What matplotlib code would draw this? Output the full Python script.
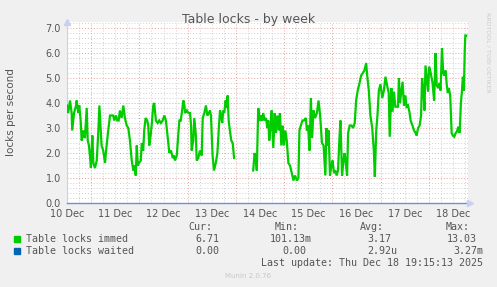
import numpy as np
import matplotlib
matplotlib.use("Agg")
import matplotlib.pyplot as plt
from matplotlib.patches import Rectangle

# hours since 10 Dec 00:00, lock rate (per second); nan marks the data gap
hours = [
    12.0, 12.6, 13.5, 14.3, 14.6, 15.5, 16.5, 16.8, 17.6, 18.1, 18.8, 19.3, 20.1, 20.9,
    21.8, 22.3, 22.9, 23.4, 23.9, 24.6, 25.1, 25.9, 26.8, 27.6, 28.1, 28.8, 29.2, 30.0,
    30.9, 31.7, 32.5, 33.4, 34.2, 35.0, 35.5, 36.4, 37.0, 37.7, 38.3, 39.2, 40.0, 40.8,
    41.7, 42.5, 43.3, 44.2, 45.0, 45.5, 46.2, 46.7, 47.2, 47.8, 48.7, 49.2, 49.9, 50.4,
    51.1, 51.9, 52.4, 52.9, 53.6, 54.1, 54.9, 55.4, 56.2, 57.1, 57.9, 58.7, 59.6, 60.4,
    61.2, 62.1, 62.9, 63.7, 64.6, 65.2, 65.7, 66.6, 67.4, 67.9, 68.6, 69.1, 69.9, 70.4,
    70.7, 71.6, 72.4, 73.2, 73.7, 74.0, 74.8, 75.3, 76.1, 76.5, 77.3, 78.1, 79.0, 79.5,
    80.3, 81.1, 81.8, 82.6, 83.1, 83.6, 84.4, 85.1, 86.0, 86.8, 87.6, 88.1, 88.7, 89.2,
    89.7, 90.2, 90.9, 91.4, 91.9, 92.4, 93.0, 93.7, 94.4, 95.1, 100.0,
    104.6, 105.3, 106.0, 106.4, 107.1, 108.0, 108.6, 109.1, 109.6, 110.3, 111.0, 111.6,
    112.1, 112.6, 113.3, 113.8, 114.6, 115.3, 115.9, 116.6, 117.3, 117.9, 118.6, 119.3,
    119.9, 120.6, 121.3, 122.1, 122.9, 123.8, 124.6, 125.4, 126.3, 127.1, 127.6, 128.3,
    129.1, 129.9, 130.8, 131.3, 131.9, 132.6, 133.3, 133.9, 134.6, 135.4, 136.3, 137.1,
    137.9, 138.8, 139.6, 140.5, 141.0, 141.6, 142.1, 142.8, 143.5, 144.1, 144.8, 145.5,
    146.1, 146.8, 147.5, 148.0, 148.8, 149.5, 150.1, 150.8, 151.3, 151.8, 152.6, 153.5,
    154.3, 155.1, 155.8, 156.6, 157.5, 158.3, 159.1, 159.9, 160.8, 161.3, 162.1, 162.9,
    163.8, 164.6, 165.1, 165.8, 166.4, 167.1, 167.9, 168.8, 169.6, 170.4, 171.2, 172.0,
    172.5, 173.3, 173.9, 174.6, 175.3, 175.9, 176.6, 177.1, 177.6, 178.3, 178.9, 179.6,
    180.3, 180.9, 181.6, 182.3, 182.9, 183.8, 184.6, 185.4, 185.9, 186.6, 187.4, 188.1,
    188.6, 189.3, 189.8, 190.3, 190.9, 191.6, 192.1, 192.9, 193.8, 194.6, 195.3, 195.9,
    196.6, 197.3, 197.8, 198.5, 199.1, 199.6, 200.3, 200.9, 201.4, 201.9, 202.6, 203.3,
    203.9, 204.6, 205.3, 205.9, 206.6, 207.3, 207.9, 208.4, 208.9, 209.4, 209.8, 210.1,
    210.6,
]
immed = [
    3.9, 3.6, 4.1, 3.6, 2.9, 3.6, 3.9, 4.1, 3.6, 3.9, 3.3, 2.5, 2.9, 2.6,
    3.8, 2.5, 2.3, 1.9, 1.4, 2.7, 1.6, 1.4, 1.7, 2.9, 3.9, 2.9, 2.3, 2.1,
    1.6, 2.3, 2.9, 3.5, 3.5, 3.5, 3.3, 3.5, 3.3, 3.3, 3.7, 3.4, 3.9, 3.4,
    3.1, 3.0, 2.5, 1.7, 1.3, 1.5, 1.1, 2.3, 1.5, 1.6, 1.7, 2.4, 2.1, 2.9,
    3.4, 3.3, 3.1, 2.3, 2.7, 3.1, 3.9, 4.0, 3.3, 3.2, 3.3, 3.2, 3.3, 3.5,
    3.3, 2.6, 2.0, 2.1, 1.8, 1.9, 1.7, 1.9, 2.8, 3.3, 3.3, 3.6, 4.1, 3.9,
    3.6, 3.7, 3.6, 3.6, 3.1, 2.1, 2.5, 3.4, 2.7, 1.7, 1.8, 2.1, 1.9, 3.4,
    3.6, 3.9, 3.5, 3.6, 3.7, 3.5, 1.9, 1.3, 1.6, 2.0, 3.1, 3.7, 3.5, 3.2,
    3.7, 3.6, 4.1, 3.8, 4.3, 3.3, 2.9, 2.5, 2.4, 1.8, np.nan,
    1.3, 2.0, 1.7, 1.3, 3.8, 3.3, 3.5, 3.3, 3.6, 3.3, 3.4, 3.0,
    3.3, 2.5, 3.1, 3.7, 2.2, 3.6, 2.8, 3.5, 2.9, 3.6, 2.3, 3.1,
    2.3, 2.9, 2.5, 1.6, 1.5, 1.2, 0.9, 1.1, 0.9, 1.0, 2.9, 3.1,
    3.3, 3.3, 3.4, 2.9, 3.1, 2.1, 4.2, 2.6, 3.7, 3.4, 3.6, 4.1,
    3.5, 2.4, 2.3, 1.1, 3.0, 2.3, 2.9, 1.1, 1.5, 1.7, 1.2, 1.3,
    1.1, 1.3, 2.6, 3.3, 1.1, 1.7, 2.0, 1.5, 1.1, 2.8, 3.1, 3.1,
    3.0, 3.2, 4.1, 4.5, 4.8, 5.1, 5.2, 5.3, 5.6, 5.1, 4.5, 3.5,
    3.0, 2.1, 1.05, 2.9, 3.5, 4.5, 4.75, 4.2, 4.5, 5.05, 4.7, 4.4,
    2.65, 4.6, 3.65, 4.45, 3.85, 3.85, 3.85, 5.0, 4.0, 4.45, 4.85, 3.9,
    4.3, 3.85, 3.9, 3.65, 3.3, 3.1, 2.9, 2.8, 2.7, 3.0, 3.1, 3.5,
    5.0, 4.45, 3.7, 5.5, 5.0, 4.45, 5.45, 5.2, 4.8, 4.1, 6.0, 4.7,
    4.6, 4.8, 4.5, 6.2, 5.2, 5.1, 5.3, 4.7, 4.4, 4.6, 4.3, 2.8,
    2.7, 2.65, 2.8, 2.85, 3.05, 2.8, 4.0, 4.45, 5.05, 4.5, 6.05, 6.7,
    6.7,
]
waited = [0.0] * len(hours)

day_labels = ["10 Dec", "11 Dec", "12 Dec", "13 Dec", "14 Dec",
              "15 Dec", "16 Dec", "17 Dec", "18 Dec"]
legend_names = ["Table locks immed", "Table locks waited"]
legend_colors = ["#00CC00", "#0066B3"]
stat_heads = ["Cur:", "Min:", "Avg:", "Max:"]
stats = [["6.71", "101.13m", "3.17", "13.03"],
         ["0.00", "0.00", "2.92u", "3.27m"]]
last_update = "Last update: Thu Dec 18 19:15:13 2025"

W, H = 497, 287
fig = plt.figure(figsize=(W / 100, H / 100), dpi=100, facecolor="#F0F0F0")


def px(x, y):
    return x / W, 1 - y / H


ax = fig.add_axes([67 / W, 84 / H, (468 - 67) / W, (203 - 22) / H])
ax.set_facecolor("white")
x_lo, x_hi = 0.5, 8.81
y_lo, y_hi = 0.0, 7.24
ax.set_xlim(x_lo, x_hi)
ax.set_ylim(y_lo, y_hi)

# grid: minor grey every 6h / 0.2, major red every day / 1.0
for d in np.arange(0.75, x_hi, 0.25):
    if abs(d - round(d)) > 1e-6:
        ax.axvline(d, color="#cfcfcf", lw=0.7, ls=(0, (1, 2)), zorder=1)
for v in np.arange(0.2, y_hi, 0.2):
    if abs(v - round(v)) > 1e-6:
        ax.axhline(v, color="#cfcfcf", lw=0.7, ls=(0, (1, 2)), zorder=1)
for d in range(1, 9):
    ax.axvline(d, color="#e6a0a0", lw=0.7, ls=(0, (1, 2)), zorder=2)
for v in range(1, 8):
    ax.axhline(v, color="#e6a0a0", lw=0.7, ls=(0, (1, 2)), zorder=2)

t_days = np.array(hours) / 24.0
ax.plot(t_days, immed, color=legend_colors[0], lw=1.6, zorder=4,
        solid_joinstyle="miter")
ax.plot([x_lo, x_hi], [0, 0], color="#6f8fd8", lw=1.0, zorder=5, clip_on=False)

for s in ["top", "right", "bottom"]:
    ax.spines[s].set_visible(False)
ax.spines["left"].set_color("#c8d0f0")
ax.spines["left"].set_linewidth(0.8)
ax.plot([x_lo], [y_hi], marker="^", ms=4, color="#c8d0f0", clip_on=False, zorder=6)
ax.plot([x_hi + 0.04], [0], marker=">", ms=4, color="#c8d0f0", clip_on=False, zorder=6)

ax.set_xticks(np.arange(0.5, 8.6, 1.0))
ax.set_xticklabels(day_labels)
ax.set_yticks(np.arange(0, 8, 1))
ax.set_yticklabels(["%.1f" % v for v in range(8)])
ax.tick_params(length=0, labelsize=7, labelcolor="#555555")
ax.tick_params(axis="x", pad=4)
ax.tick_params(axis="y", pad=4.5)

fig.text(*px(248.5, 19), "Table locks - by week", ha="center", va="center",
         fontsize=9, color="#555555")
fig.text(*px(11, 112), "locks per second", rotation=90, ha="center", va="center",
         fontsize=7.5, color="#555555")
fig.text(*px(488, 52), "RRDTOOL / TOBI OETIKER", rotation=270, ha="center",
         va="center", fontsize=4.5, color="#cccccc")

mono = dict(family="DejaVu Sans Mono", fontsize=7.2, color="#555555", va="center")
col_right = [225, 312, 397, 483]
for head, xr in zip(stat_heads, col_right):
    fig.text(*px(xr - 13, 227.3), head, ha="right", **mono)
row_y = [239.3, 251.0]
for i in range(2):
    fig.patches.append(Rectangle(px(14, row_y[i] + 3), 6 / W, 6 / H,
                                 transform=fig.transFigure,
                                 color=legend_colors[i], figure=fig))
    fig.text(*px(26, row_y[i]), legend_names[i], ha="left", **mono)
    for val, xr in zip(stats[i], col_right):
        shift = 0 if val[-1].isalpha() else 6
        fig.text(*px(xr - shift, row_y[i]), val, ha="right", **mono)
fig.text(*px(483, 263.3), last_update, ha="right", **mono)
fig.text(*px(248, 276.5), "Munin 2.0.76", ha="center", va="center",
         fontsize=5, color="#c8c8c8")

fig.savefig("out.png", dpi=100, facecolor=fig.get_facecolor())
